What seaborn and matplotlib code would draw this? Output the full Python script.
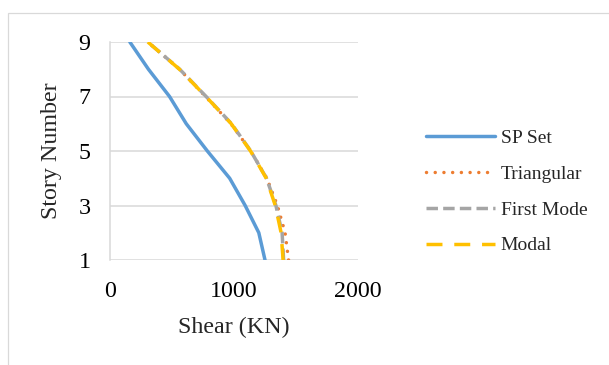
import matplotlib
matplotlib.use("Agg")
import matplotlib.pyplot as plt
import seaborn as sns
import pandas as pd
from matplotlib.patches import Rectangle

# Story shear profiles (kN) for each lateral load pattern
stories = [1, 2, 3, 4, 5, 6, 7, 8, 9]
sp_set = [1250, 1200, 1090, 965, 785, 615, 480, 310, 160]
triangular = [1440, 1412, 1350, 1265, 1135, 975, 770, 560, 305]
first_mode = [1400, 1388, 1338, 1262, 1135, 980, 775, 562, 305]
modal = [1396, 1380, 1333, 1260, 1133, 978, 773, 560, 305]

series_names = ["SP Set", "Triangular", "First Mode", "Modal"]
x_ticks = [0, 1000, 2000]
y_ticks = [1, 3, 5, 7, 9]

sns.set_theme(style="white")
plt.rcParams["font.family"] = ["Liberation Serif", "DejaVu Serif"]

fig = plt.figure(figsize=(6.09, 3.65), dpi=100)
fig.patch.set_facecolor("white")

# thin outer frame
fig.patches.append(Rectangle((8 / 609, -0.05), 1.1, 1 - 13 / 365 + 0.05,
                             transform=fig.transFigure, fill=False,
                             edgecolor="#d9d9d9", linewidth=0.9))

ax = fig.add_axes([110 / 609, 1 - 260 / 365, 248 / 609, 218 / 365])

df = pd.DataFrame({"story": stories, "SP Set": sp_set, "Triangular": triangular,
                   "First Mode": first_mode, "Modal": modal})

styles = {
    "SP Set": dict(color="#5B9BD5", linestyle="-", dash_capstyle="butt"),
    "Triangular": dict(color="#ED7D31", linestyle=(0, (0.01, 2.5)), dash_capstyle="round"),
    "First Mode": dict(color="#A5A5A5", linestyle=(0, (3.3, 1.5)), dash_capstyle="butt"),
    "Modal": dict(color="#FFC000", linestyle=(0, (4.6, 3.4)), dash_capstyle="butt"),
}

for name in series_names:
    sns.lineplot(data=df, x=name, y="story", orient="y", sort=False, ax=ax,
                 linewidth=2.5, label=name, **styles[name])

ax.set_xlim(0, 2000)
ax.set_ylim(1, 9)
ax.set_xticks(x_ticks)
ax.set_yticks(y_ticks)
ax.grid(axis="y", color="#d9d9d9", linewidth=1.1)
ax.grid(axis="x", visible=False)
for s in ["top", "right", "bottom"]:
    ax.spines[s].set_visible(False)
ax.spines["left"].set_color("#d9d9d9")
ax.spines["left"].set_linewidth(1.1)
ax.tick_params(axis="both", length=0, labelsize=17.3, colors="black")
ax.tick_params(axis="y", pad=14)
ax.tick_params(axis="x", pad=15)
ax.set_xlabel("Shear (KN)", fontsize=17.3, labelpad=11)
ax.set_ylabel("Story Number", fontsize=17.3, labelpad=12)
ax.set_axisbelow(True)

ax.get_legend().remove()
handles, labels = ax.get_legend_handles_labels()
fig.legend(handles, labels, loc="center left", bbox_to_anchor=(426 / 609, 1 - 192 / 365),
           frameon=False, fontsize=14, handlelength=3.55, handletextpad=0.3,
           labelspacing=0.93, borderpad=0, borderaxespad=0)

fig.savefig("out.png", dpi=100, facecolor="white")
